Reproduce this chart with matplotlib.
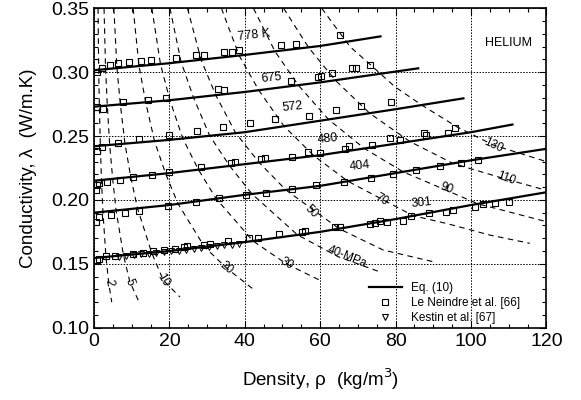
import numpy as np
import matplotlib
matplotlib.use("Agg")
import matplotlib.pyplot as plt
import matplotlib.ticker as mticker
from matplotlib.lines import Line2D

plt.rcParams['font.family'] = ['Liberation Sans', 'DejaVu Sans']

# isotherms, Eq. (10)  (density kg/m3, conductivity W/m.K)
iso_T = ["301", "404", "480", "572", "675", "778 K"]
iso_rho = [
    [0, 20, 40, 60, 80, 100, 120],
    [0, 20, 40, 60, 80, 100, 120],
    [0, 20, 40, 60, 80, 100, 111],
    [0, 20, 40, 60, 80, 98],
    [0, 20, 40, 60, 86],
    [0, 20, 40, 60, 76],
]
iso_lam = [
    [0.1545, 0.160, 0.167, 0.175, 0.185, 0.196, 0.206],
    [0.190, 0.196, 0.204, 0.211, 0.221, 0.231, 0.240],
    [0.215, 0.221, 0.228, 0.235, 0.244, 0.253, 0.259],
    [0.242, 0.247, 0.253, 0.262, 0.271, 0.2795],
    [0.273, 0.278, 0.2845, 0.292, 0.303],
    [0.3015, 0.307, 0.3135, 0.3205, 0.328],
]
iso_lab_pos = [(86.9, 0.1974), (70.6, 0.2266), (62.0, 0.248),
               (52.6, 0.2725), (47.1, 0.2952), (42.3, 0.329)]

# isobars (MPa)
bar_rho = [
    [1.07, 1.24, 1.42, 1.68, 1.99, 2.37, 3.17, 3.9, 4.7],
    [2.66, 3.07, 3.53, 4.16, 4.95, 5.86, 7.82, 9.5, 11.8],
    [5.27, 6.08, 6.99, 8.21, 9.75, 11.53, 15.29, 18.4, 22.8],
    [10.38, 11.95, 13.7, 16.06, 18.97, 22.3, 29.3, 35.2, 42.3],
    [15.35, 17.63, 20.14, 23.55, 27.7, 32.4, 42.2, 51.0, 60.0],
    [20.15, 23.1, 26.4, 30.7, 36.0, 41.9, 54.0, 64.8, 75.9],
    [24.8, 28.4, 32.3, 37.6, 43.8, 50.9, 65.0, 76.7, 90.0],
    [33.8, 38.5, 43.7, 50.4, 58.4, 67.3, 84.7, 93.6, 105.0, 115.6],
    [42.3, 48.0, 54.2, 62.2, 71.7, 82.0, 101.8, 120.0],
    [50.3, 56.9, 64.0, 73.1, 83.8, 95.2, 109.0, 120.0],
    [60.4, 67.9, 73.4, 79.8, 86.9, 96.2, 105.9, 120.0],
]
bar_lam = [
    [0.35, 0.302, 0.2735, 0.2425, 0.2155, 0.1905, 0.1555, 0.135, 0.120],
    [0.35, 0.3023, 0.2739, 0.243, 0.2165, 0.1918, 0.1567, 0.136, 0.121],
    [0.35, 0.3032, 0.2748, 0.2441, 0.2179, 0.1935, 0.1587, 0.137, 0.124],
    [0.35, 0.3048, 0.2764, 0.246, 0.2207, 0.1969, 0.1633, 0.1465, 0.130],
    [0.35, 0.3063, 0.278, 0.2481, 0.2237, 0.201, 0.1678, 0.150, 0.137],
    [0.35, 0.308, 0.2801, 0.2502, 0.2266, 0.2047, 0.1726, 0.1555, 0.1436],
    [0.35, 0.3097, 0.282, 0.2523, 0.2293, 0.2078, 0.1775, 0.1608, 0.1516],
    [0.35, 0.313, 0.2859, 0.2577, 0.2344, 0.2147, 0.1876, 0.1815, 0.1725, 0.166],
    [0.35, 0.3163, 0.2898, 0.263, 0.2403, 0.222, 0.197, 0.183],
    [0.35, 0.3194, 0.2937, 0.2679, 0.2457, 0.2286, 0.2165, 0.2075],
    [0.35, 0.32, 0.3056, 0.2886, 0.2743, 0.2573, 0.243, 0.230],
]
bar_lab = ["2", "5", "10", "20", "30", "40-MPa", "50", "70", "90", "110", "130"]
bar_lab_pos = [(3.9, 0.135), (9.5, 0.136), (18.4, 0.137), (35.2, 0.1465),
               (51.0, 0.150), (67.0, 0.1555), (57.7, 0.1908), (76.3, 0.200),
               (93.5, 0.209), (109.3, 0.2165), (105.9, 0.243)]
bar_lab_rot = [-80, -70, -58, -40, -30, -22, -45, -30, -20, -20, -25]

# Le Neindre et al. [66]
ln_rho = [0.9, 2.0, 4.2, 6.4, 9.4, 12.5, 15.1, 21.7, 27.1, 29.2, 34.6, 36.7, 38.5, 49.6, 53.6, 65.3,
          0.7, 2.5, 7.8, 14.2, 19.0, 32.9, 34.5, 52.2, 59.3, 60.1, 63.1, 68.5, 69.6, 73.3,
          0.7, 2.2, 6.4, 11.9, 19.9, 27.4, 34.3, 41.5, 48.1, 57.0, 64.3, 70.8, 78.8,
          0.5, 0.7, 1.3, 3.5, 6.9, 10.3, 15.3, 19.9, 28.3, 36.3, 37.3, 44.2, 45.4, 52.5,
          56.8, 59.9, 66.7, 67.7, 73.8, 78.4, 81.3, 87.5, 88.2, 93.9, 95.8,
          0.4, 1.3, 4.4, 8.2, 12.0, 19.7, 27.0, 33.2, 40.2, 45.5, 52.5, 58.8, 66.2, 73.6,
          79.4, 85.5, 91.8, 97.4, 101.9,
          0.7, 1.3, 3.1, 5.6, 10.3, 12.9, 15.7, 18.6, 21.6, 23.9, 24.6, 29.2, 30.8, 35.6,
          41.2, 43.5, 49.1, 55.1, 56.0, 63.9, 65.3, 73.2, 74.5, 75.9, 77.6, 82.0, 84.2,
          88.8, 93.5, 95.3, 101.0, 103.2, 106.4, 110.0]
ln_lam = [0.300, 0.303, 0.3055, 0.307, 0.308, 0.309, 0.3095, 0.311, 0.3135, 0.3137, 0.3156, 0.316,
          0.3174, 0.3213, 0.322, 0.3294,
          0.2725, 0.2712, 0.2769, 0.2782, 0.280, 0.2866, 0.2861, 0.2931, 0.296, 0.2967, 0.2991,
          0.3033, 0.3033, 0.3054,
          0.2385, 0.2417, 0.2443, 0.2475, 0.2511, 0.254, 0.2569, 0.260, 0.2631, 0.2659, 0.2702,
          0.2735, 0.2769,
          0.2075, 0.2117, 0.2135, 0.2143, 0.2156, 0.2177, 0.2195, 0.2221, 0.2255, 0.2287, 0.2295,
          0.232, 0.2328, 0.2338, 0.2378, 0.2365, 0.2396, 0.2425, 0.243, 0.2482, 0.2469, 0.2526,
          0.2508, 0.2526, 0.2565,
          0.183, 0.1869, 0.1882, 0.190, 0.1916, 0.1955, 0.1982, 0.2018, 0.2039, 0.2052, 0.2084,
          0.2117, 0.2143, 0.2174, 0.2203, 0.2234, 0.2266, 0.2291, 0.2313,
          0.153, 0.1538, 0.1561, 0.1563, 0.1577, 0.1587, 0.1598, 0.1608, 0.1613, 0.1634, 0.1639,
          0.1647, 0.1652, 0.1678, 0.1699, 0.1704, 0.1731, 0.1751, 0.1757, 0.1791, 0.1786,
          0.1812, 0.1822, 0.1835, 0.1830, 0.1838, 0.1874, 0.1895, 0.1908, 0.1921, 0.1947,
          0.1968, 0.1974, 0.1986]

# Kestin et al. [67]
ke_rho = [6.5, 8.5, 10.5, 12.5, 14.5, 16.5, 18.5, 20.5, 22.5, 24.5, 26.5, 28.5, 30.5, 32.5,
          34.5, 36.5, 38.5]
ke_lam = [0.1555, 0.1562, 0.1568, 0.1574, 0.158, 0.1586, 0.1592, 0.1598, 0.1604, 0.161, 0.1617,
          0.1623, 0.163, 0.1637, 0.1644, 0.1651, 0.1658]

fig = plt.figure(figsize=(5.81, 4.0), dpi=100)
ax = fig.add_axes([0.1618, 0.1808, 0.7786, 0.7985])

for xs, ys in zip(bar_rho, bar_lam):
    ax.plot(xs, ys, color="black", lw=0.8, ls=(0, (5, 4)), zorder=2)

for xs, ys in zip(iso_rho, iso_lam):
    ax.plot(xs, ys, color="black", lw=1.6, zorder=3)

ax.plot(ln_rho, ln_lam, ls="none", marker="s", ms=5, mfc="none", mec="black", mew=0.8, zorder=4)
ax.plot(ke_rho, ke_lam, ls="none", marker="v", ms=4.5, mfc="none", mec="black", mew=0.7, zorder=4)

for t, (x, y) in zip(iso_T, iso_lab_pos):
    ax.text(x, y, t, fontsize=9, rotation=6, ha="center", va="center", zorder=5)

for t, (x, y), r in zip(bar_lab, bar_lab_pos, bar_lab_rot):
    ax.text(x, y, t, fontsize=8.5, rotation=r, ha="center", va="center", zorder=5)

ax.text(110, 0.3226, "HELIUM", fontsize=9, ha="center", va="center")

ax.set_xlim(0, 120)
ax.set_ylim(0.10, 0.35)
ax.xaxis.set_major_locator(mticker.MultipleLocator(20))
ax.xaxis.set_minor_locator(mticker.MultipleLocator(5))
ax.yaxis.set_major_locator(mticker.MultipleLocator(0.05))
ax.yaxis.set_minor_locator(mticker.MultipleLocator(0.01))
ax.yaxis.set_major_formatter(mticker.StrMethodFormatter("{x:.2f}"))
ax.tick_params(which="both", direction="in", top=True, right=True, labelsize=14, width=0.8)
ax.tick_params(which="major", length=5)
ax.tick_params(which="minor", length=3)
ax.grid(True, which="major", color="black", ls=(0, (1.5, 1.5)), lw=0.7)
for s in ax.spines.values():
    s.set_linewidth(1.2)

ax.set_xlabel("Density, ρ  (kg/m$^3$)", fontsize=13.5, labelpad=12)
ax.set_ylabel("Conductivity, λ  (W/m.K)", fontsize=13.5, labelpad=10)

handles = [
    Line2D([], [], color="black", lw=1.6),
    Line2D([], [], ls="none", marker="s", ms=4, mfc="none", mec="black", mew=0.8),
    Line2D([], [], ls="none", marker="v", ms=4, mfc="none", mec="black", mew=0.8),
]
ax.legend(handles, ["Eq. (10)", "Le Neindre et al. [66]", "Kestin et al. [67]"],
          loc="lower left", bbox_to_anchor=(0.60, 0.0), frameon=False, fontsize=8.5,
          handlelength=2.8, handletextpad=0.8, labelspacing=0.25, borderpad=0.3,
          borderaxespad=0.0)

fig.savefig("out.png", dpi=100)
